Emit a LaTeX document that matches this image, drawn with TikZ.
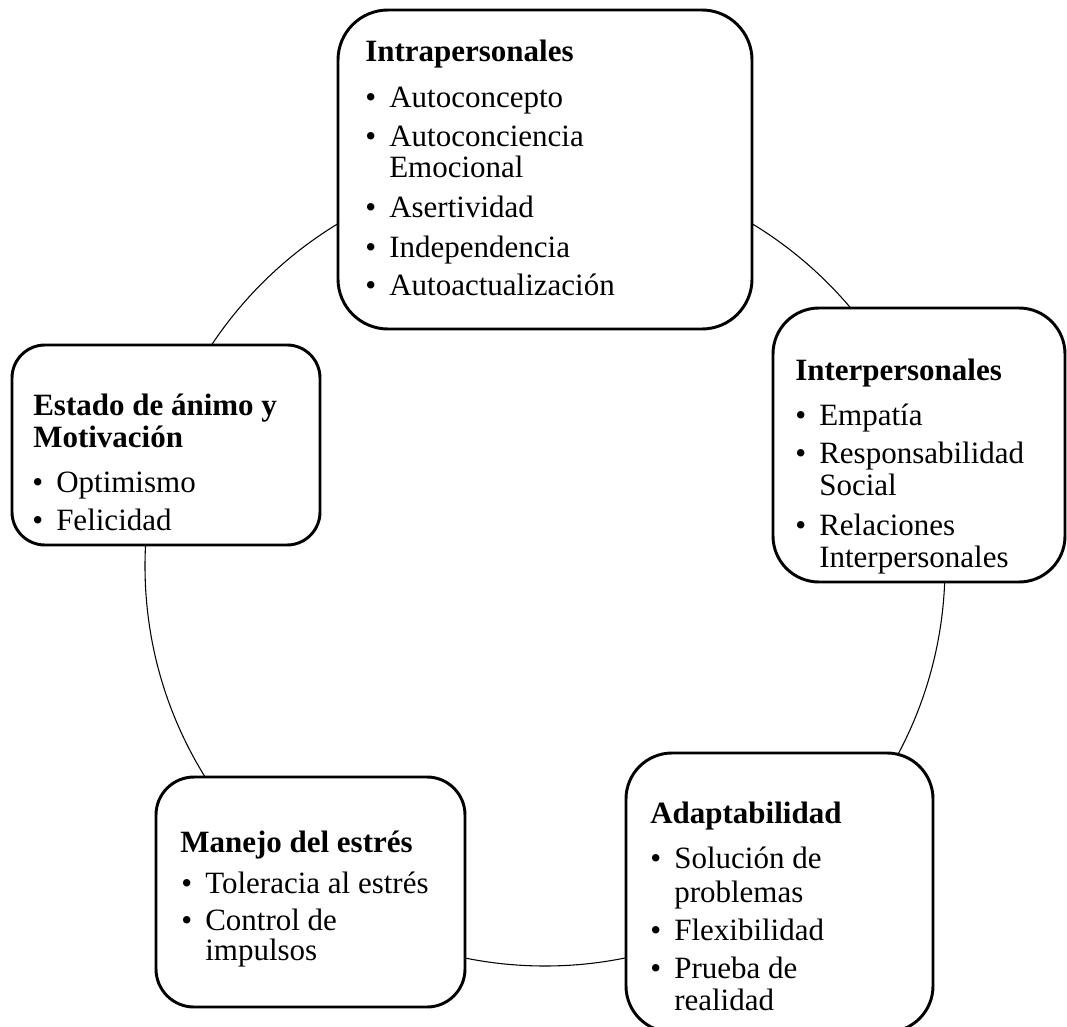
\documentclass[tikz,border=0pt]{standalone}
\usepackage{fontspec}
\setmainfont{Liberation Serif}
\newcommand\cardfont{\fontsize{23.25pt}{23pt}\selectfont}
\newcommand\bul{\makebox[18pt][l]{\textbullet}}
\newcommand\cont{\hspace*{18pt}}
\begin{document}
\begin{tikzpicture}[x=0.75pt,y=-0.75pt,
  ringline/.style={draw, circle, line width=0.8pt, inner sep=0, minimum size=600pt},
  cardbox/.style={draw, rectangle, line width=2.2pt, fill=white, inner sep=0},
  headtxt/.style={anchor=base west, inner sep=0, font=\cardfont\bfseries},
  itemtxt/.style={anchor=base west, inner sep=0, font=\cardfont}]
\useasboundingbox (0,0) rectangle (1067,1027);

% ring behind the five cards
\node[ringline] (ring) at (545,566) {};

% cards
\node[cardbox, minimum width=310.5pt, minimum height=239.25pt, rounded corners=37.5pt] (intra) at (545,169.5) {};
\node[cardbox, minimum width=219pt, minimum height=205.5pt, rounded corners=34.5pt] (inter) at (919,445) {};
\node[cardbox, minimum width=231pt, minimum height=150pt, rounded corners=24.75pt] (animo) at (166,445) {};
\node[cardbox, minimum width=231.75pt, minimum height=172.5pt, rounded corners=28.5pt] (estres) at (310.5,892) {};
\node[cardbox, minimum width=230.25pt, minimum height=209.25pt, rounded corners=34.5pt] (adapt) at (779.5,892.5) {};

% Intrapersonales
\node[headtxt] (intra-h) at (365,62) {Intrapersonales};
\node[itemtxt] (intra-1) at (365,108) {\bul Autoconcepto};
\node[itemtxt] (intra-2) at (365,147) {\bul Autoconciencia};
\node[itemtxt] (intra-2b) at (365,178) {\cont Emocional};
\node[itemtxt] (intra-3) at (365,218) {\bul Asertividad};
\node[itemtxt] (intra-4) at (365,257) {\bul Independencia};
\node[itemtxt] (intra-5) at (365,295) {\bul Autoactualización};

% Interpersonales
\node[headtxt] (inter-h) at (795,380) {Interpersonales};
\node[itemtxt] (inter-1) at (795,425) {\bul Empatía};
\node[itemtxt] (inter-2) at (795,463) {\bul Responsabilidad};
\node[itemtxt] (inter-2b) at (795,495) {\cont Social};
\node[itemtxt] (inter-3) at (795,535) {\bul Relaciones};
\node[itemtxt] (inter-3b) at (795,567) {\cont Interpersonales};

% Estado de ánimo y Motivación
\node[headtxt] (animo-h) at (33,415) {Estado de ánimo y};
\node[headtxt] (animo-h2) at (33,447) {Motivación};
\node[itemtxt] (animo-1) at (32,492) {\bul Optimismo};
\node[itemtxt] (animo-2) at (32,530) {\bul Felicidad};

% Manejo del estrés
\node[headtxt] (estres-h) at (180,852) {Manejo del estrés};
\node[itemtxt] (estres-1) at (181,893) {\bul Toleracia al estrés};
\node[itemtxt] (estres-2) at (181,930) {\bul Control de};
\node[itemtxt] (estres-2b) at (181,960) {\cont impulsos};

% Adaptabilidad
\node[headtxt] (adapt-h) at (650,823) {Adaptabilidad};
\node[itemtxt] (adapt-1) at (650,868) {\bul Solución de};
\node[itemtxt] (adapt-1b) at (650,902) {\cont problemas};
\node[itemtxt] (adapt-2) at (650,940) {\bul Flexibilidad};
\node[itemtxt] (adapt-3) at (650,978) {\bul Prueba de};
\node[itemtxt] (adapt-3b) at (650,1010) {\cont realidad};
\end{tikzpicture}
\end{document}
